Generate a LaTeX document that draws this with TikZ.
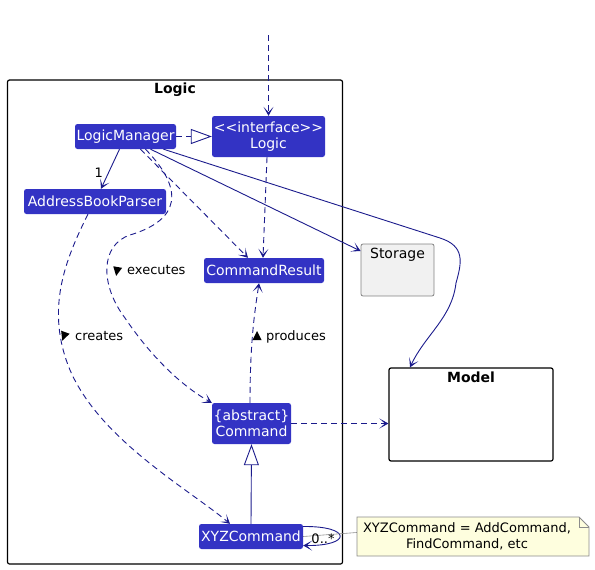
\documentclass[tikz,border=0pt]{standalone}
\usepackage{fontspec}
\setmainfont{DejaVu Sans}
\usetikzlibrary{arrows.meta}
\definecolor{clsfill}{RGB}{51,51,196}
\definecolor{lnk}{RGB}{27,27,140}
\definecolor{notefill}{RGB}{254,254,222}
\definecolor{noteline}{RGB}{140,140,140}
\definecolor{storfill}{RGB}{241,241,241}
\definecolor{storline}{RGB}{130,130,130}
\begin{document}
\begin{tikzpicture}[x=1pt,y=-1pt,
  cls/.style={fill=clsfill,text=white,rounded corners=2.5pt,inner sep=0pt,align=center,font=\fontsize{14}{16.5}\selectfont},
  lbl/.style={font=\fontsize{13}{16}\selectfont,inner sep=0pt},
  bold/.style={font=\fontsize{14}{16}\selectfont\bfseries,inner sep=0pt},
  link/.style={draw=lnk,line width=0.9pt},
  dep/.style={link,dash pattern=on 6pt off 4pt},
  arr/.style={-{Stealth[length=9pt,width=10pt,inset=5.5pt]}},
  realize/.style={-{Triangle[fill=white,length=21pt,width=15pt]}},
  marker/.style={fill=black}
]
\useasboundingbox (0,0) rectangle (595,570);

% Logic package
\node[draw=black,rounded corners=2pt,line width=1.2pt,minimum width=335pt,minimum height=484pt,inner sep=0pt,
  label={[bold,anchor=north,yshift=-3pt]north:Logic}] (pkg) at (175,322) {};

% outside packages
\node[draw=storline,fill=storfill,rounded corners=2pt,line width=0.8pt,minimum width=73pt,minimum height=52pt,inner sep=0pt,
  label={[lbl,font=\fontsize{14}{16}\selectfont,anchor=north,yshift=-4pt]north:Storage}] (stor) at (397.5,270) {};
\node[draw=black,fill=white,rounded corners=2pt,line width=1.2pt,minimum width=164pt,minimum height=93pt,inner sep=0pt,
  label={[bold,anchor=north,yshift=-4pt]north:Model}] (model) at (471,414.5) {};

% classes
\node[cls,minimum width=101pt,minimum height=25pt] (lm) at (125.5,136.5) {LogicManager};
\node[cls,minimum width=113pt,minimum height=41pt] (logic) at (268.5,136.5) {{<}{<}interface{>}{>}\\Logic};
\node[cls,minimum width=142pt,minimum height=25pt] (abp) at (95,201.5) {AddressBookParser};
\node[cls,minimum width=120pt,minimum height=25pt] (cr) at (264,270.5) {CommandResult};
\node[cls,minimum width=79pt,minimum height=41pt] (cmd) at (251.5,423.5) {\{abstract\}\\Command};
\node[cls,minimum width=104pt,minimum height=25pt] (xyz) at (251,536.5) {XYZCommand};

% note
\draw[draw=noteline,fill=notefill,line width=0.8pt] (357,517) -- (579,517) -- (589,527) -- (589,556) -- (357,556) -- cycle;
\draw[draw=noteline,line width=0.8pt] (579,517) -- (579,527) -- (589,527);
\node[minimum width=232pt,minimum height=39pt,inner sep=0pt,
  label={[lbl,align=center,xshift=-6pt]center:XYZCommand = AddCommand,\\FindCommand, etc}] (note) at (473,536.5) {};

\coordinate (top) at (268.5,35);

% connectors
\draw[dep,arr] (top) -- (logic.north);
\draw[dep,realize] (lm.east) -- (logic.west);
\draw[link,arr] ([xshift=-6pt]lm.south) -- node[lbl,pos=0.6,left=5pt] {1} ([xshift=6pt]abp.north);
\draw[dep,arr] ([xshift=15pt]lm.south) -- ([xshift=-16pt]cr.north);
\draw[dep,arr] ([xshift=-1.5pt]logic.south) -- ([xshift=-1pt]cr.north);
\draw[link,arr] ([xshift=25pt]lm.south) -- ([yshift=19pt]stor.west);
\draw[link,arr] ([xshift=38pt]lm.south) -- (440,238) .. controls (465,246) and (462,262) .. (456,283)
   .. controls (452,318) and (425,335) .. ([xshift=-61pt]model.north);
\draw[dep,arr] ([xshift=20pt]lm.south) .. controls (185,190) and (180,220) .. (130,235)
   .. controls (100,245) and (100,285) .. (125,318) .. controls (150,355) and (180,385) .. (cmd.north west);
\draw[dep,arr] ([xshift=-7pt]abp.south) .. controls (65,260) and (45,310) .. (70,370)
   .. controls (100,440) and (190,490) .. ([xshift=-21pt]xyz.north);
\draw[dep,arr] ([xshift=-1.5pt]cmd.north) .. controls (250,340) and (255,310) .. ([xshift=-5pt]cr.south);
\draw[dep,arr] (cmd.east) -- (cmd.east -| model.west);
\draw[link,realize] (xyz.north) -- (cmd.south);
\draw[link,arr] ([yshift=10pt]xyz.east) .. controls (352,526) and (352,546) .. ([yshift=-9pt]xyz.east);
\draw[draw=noteline,line width=0.6pt] (xyz.east) -- ([yshift=4pt]note.west);
\node[lbl] at (323,539) {0..*};

% relation labels
\fill[marker,shift={(117,271)},rotate=-100] (5,0) -- (-4,4.5) -- (-4,-4.5) -- cycle;
\node[lbl,anchor=base west] at (127,274) {executes};
\fill[marker,shift={(64,336)},rotate=-110] (5,0) -- (-4,4.5) -- (-4,-4.5) -- cycle;
\node[lbl,anchor=base west] at (75,340) {creates};
\fill[marker,shift={(257,336)},rotate=90] (5,0) -- (-4,4.5) -- (-4,-4.5) -- cycle;
\node[lbl,anchor=base west] at (266,340) {produces};
\end{tikzpicture}
\end{document}
